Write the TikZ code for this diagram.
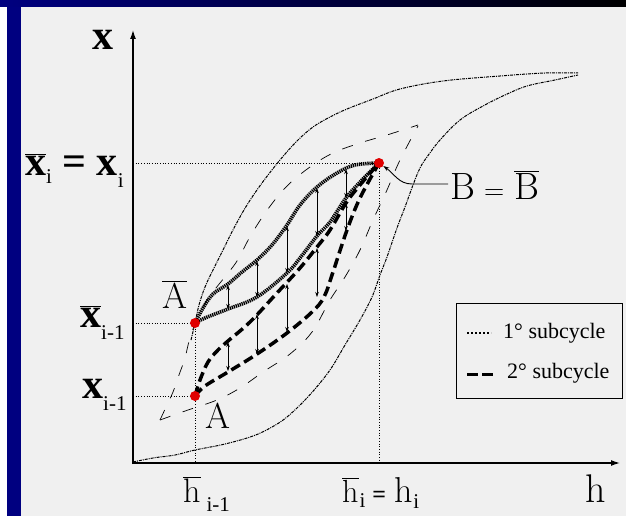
\documentclass[tikz,border=0pt]{standalone}
\usepackage{fontspec}
\setmainfont{Liberation Serif}
\newfontfamily\lmr{Latin Modern Roman}
\usetikzlibrary{arrows.meta}
\definecolor{bg}{HTML}{F0F0F0}
\definecolor{navyb}{HTML}{000080}
\definecolor{dotred}{HTML}{E00000}
\newcommand\ovl[1]{\ensuremath{\overline{\hbox{#1}}}}
\newcommand\sbs[2]{\raisebox{#1}{\normalfont\fontsize{21}{21}\selectfont #2}}
\newcommand\beq[1]{{\normalfont\bfseries\fontsize{#1}{#1}\selectfont=}}
\begin{document}
\begin{tikzpicture}[x=1pt,y=-1pt,
  outer/.style={line width=1pt, dash pattern=on 3pt off 1pt on 1pt off 1pt},
  env/.style={line width=0.7pt, dash pattern=on 11pt off 13pt},
  subone/.style={line width=3.6pt, dash pattern=on 1.3pt off 0.8pt},
  subtwo/.style={line width=3.5pt, dash pattern=on 10pt off 5pt},
  guide/.style={line width=0.7pt, dotted},
  dbl/.style={line width=0.6pt, <->, >={Stealth[length=5pt,width=3.5pt]}},
  axis/.style={line width=1.3pt, -{Latex[length=9pt,width=6pt]}},
  pt/.style={circle, fill=dotred, inner sep=0pt, minimum size=10pt},
  lbl/.style={inner sep=0pt, anchor=base west},
  xfont/.style={font=\fontsize{42}{42}\selectfont\bfseries},
  mfont/.style={font=\lmr\fontsize{36}{36}\selectfont}]
\useasboundingbox (0,0) rectangle (626,516);
% frame
\fill[bg] (0,0) rectangle (626,516);
\fill[white] (0,7) rectangle (7,516);
\fill[navyb] (7,7) rectangle (21,516);
\shade[left color=navyb, right color=black] (0,0) rectangle (626,7);
% key coordinates
\coordinate (cAb) at (195,323);
\coordinate (cA) at (195,396);
\coordinate (cB) at (379,163);
\coordinate (O) at (133,463);
% guides
\draw[guide] (133,163) -- (cB) -- (379,463);
\draw[guide] (133,323) -- (cAb) -- (195,463);
\draw[guide] (133,396) -- (cA);
% outer loop
\draw[outer] plot[smooth, tension=0.6] coordinates {(191,340) (195,323) (199,305) (205,287) (213,270) (222,252) (234,228) (247,205) (262,183) (280,160) (297,141) (313,127) (330,117) (347,109) (373,99) (400,89) (443,81) (500,76) (545,73) (578,73)};
\draw[outer] plot[smooth, tension=0.6] coordinates {(133,462) (153,458) (175,455) (195,450) (225,444) (253,436) (272,427) (287,417) (305,400) (320,383) (332,367) (345,345) (360,320) (372,297) (380,275) (387,257) (397,228) (405,207) (413,185) (420,168) (427,157) (440,140) (460,120) (483,106) (505,95) (527,86) (555,80) (578,75)};
% envelope
\draw[env] plot[smooth, tension=0.6] coordinates {(160,420) (167,405) (173,392) (179,375) (185,358) (190,338) (200,312) (213,292) (224,278) (237,261) (251,235) (268,209) (287,186) (310,167) (333,153) (360,143) (387,135) (418,125)};
\draw[env] plot[smooth, tension=0.6] coordinates {(160,420) (188,410) (217,400) (240,388) (263,372) (290,354) (312,332) (330,300) (345,277) (360,250) (373,220) (387,190) (400,160) (418,126)};
% first subcycle
\draw[subone] plot[smooth, tension=0.6] coordinates {(195,323) (203,308) (213,294) (228,284) (242,272) (257,260) (272,245) (287,225) (300,205) (317,187) (337,173) (355,165) (379,163)};
\draw[subone] plot[smooth, tension=0.6] coordinates {(195,323) (205,318) (228,309) (257,297) (287,273) (300,258) (317,236) (330,222) (346,198) (362,180) (379,163)};
% second subcycle
\draw[subtwo] plot[smooth, tension=0.6] coordinates {(195,396) (200,380) (208,362) (218,350) (228,341) (250,322) (277,293) (300,268) (317,247) (330,230) (346,203) (360,185) (379,163)};
\draw[subtwo] plot[smooth, tension=0.6] coordinates {(195,396) (205,386) (228,372) (257,354) (287,333) (312,312) (324,297) (333,272) (347,230) (360,198) (379,163)};
% arrows
\foreach \x/\a/\b in {228/285/309, 257/261/297, 287/226/273, 317/188/236, 346/169/198,
                      228/342/371, 257/314/354, 287/284/332, 317/248/297, 346/203/231}
  \draw[dbl] (\x,\a) -- (\x,\b);
% axes
\draw[axis] (O) -- (620,463);
\draw[axis] (133,464) -- (133,30);
% points
\node[pt] (Ab) at (cAb) {};
\node[pt] (A) at (cA) {};
\node[pt] (B) at (cB) {};
% labels
\node[lbl, xfont] (xl) at (92,50) {x};
\node[lbl, xfont] (xil) at (25,175) {\ovl{x}\sbs{-9pt}{i} = x\sbs{-12pt}{i}};
\node[lbl, xfont] (xim) at (80,327) {\ovl{x}\sbs{-12pt}{i-1}};
\node[lbl, xfont] (xim2) at (82,398) {x\sbs{-12pt}{i-1}};
\node[lbl, mfont] (Abl) at (162,308) {\ovl{A}};
\node[lbl, mfont] (Al) at (205,428) {A};
\node[lbl, font=\lmr\fontsize{38}{38}\selectfont] (Bl) at (450,199) {B\kern9pt{\fontsize{28}{28}\selectfont=}\kern10pt\ovl{B}};
\node[lbl, font=\lmr\fontsize{40}{40}\selectfont] (hl) at (585,502) {h};
\node[lbl, font=\lmr\fontsize{34}{34}\selectfont] (him) at (183,502) {\ovl{h}\kern6pt\sbs{-9pt}{i-1}};
\node[lbl, font=\lmr\fontsize{32}{32}\selectfont] (hi) at (342,502) {\ovl{h}\kern1pt\sbs{-5pt}{i}\kern7pt\beq{24}\kern8pt{\fontsize{36}{36}\selectfont h}\kern1pt\sbs{-6pt}{i}};
% leader
\coordinate (bl) at (448,184);
\draw[line width=0.9pt, -{Stealth[length=6pt,width=4pt]}] (bl) -- (412,184) to[out=180, in=-35] (B);
% legend
\node[draw, fill=bg, line width=0.9pt, minimum width=166pt, minimum height=95pt, anchor=north west, inner sep=0pt] (leg) at (456,303) {};
\draw[line width=2pt, dotted] (467,333) -- (491,333);
\draw[line width=3pt, dash pattern=on 11pt off 4pt] (467,374) -- (493,374);
\node[lbl, font=\fontsize{22}{22}\selectfont] (l1) at (503,338) {1° subcycle};
\node[lbl, font=\fontsize{22}{22}\selectfont] (l2) at (507,378) {2° subcycle};
\end{tikzpicture}
\end{document}
